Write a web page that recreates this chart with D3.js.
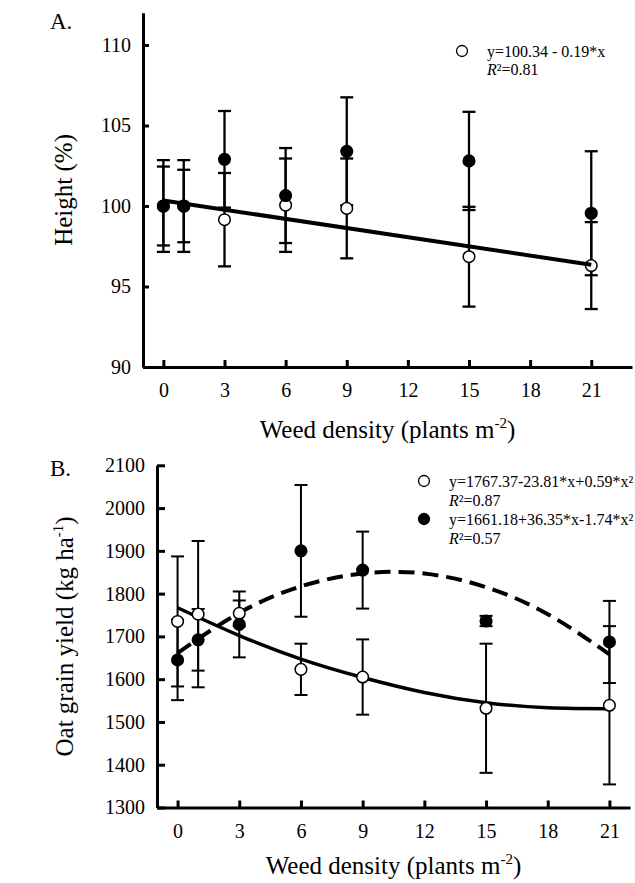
<!DOCTYPE html>
<html>
<head>
<meta charset="utf-8">
<script src="https://cdn.jsdelivr.net/npm/d3@7"></script>
<style>
  html, body { margin: 0; padding: 0; background: #fff; }
  svg { display: block; }
  svg text { font-family: "Liberation Serif", "Times New Roman", Times, "DejaVu Serif", serif !important; }
</style>
</head>
<body>
<div id="chart"></div>
<script>
// weed densities (plants m-2) used in both panels
const densities = [0, 1, 3, 6, 9, 15, 21];
const xTicks = [0, 3, 6, 9, 12, 15, 18, 21];

// A. height (%)
const heightTicks = [90, 95, 100, 105, 110];
const heightOpen = [100, 100, 99.15, 100.05, 99.85, 96.85, 96.3];
const heightOpenErr = [2.45, 2.25, 2.9, 2.9, 3.1, 3.1, 2.7];
const heightFilled = [100, 100, 102.9, 100.65, 103.4, 102.8, 99.55];
const heightFilledErr = [2.85, 2.85, 3.0, 2.95, 3.35, 3.05, 3.85];
// fitted line
const heightFitX = [0, 21];
const heightFitOpen = [100.34, 96.35];
const heightLegendSymbols = ['open'];
const heightLegendEq = ['y=100.34 - 0.19*x'];
const heightLegendR2 = ['0.81'];

// B. oat grain yield (kg ha-1)
const yieldTicks = [1300, 1400, 1500, 1600, 1700, 1800, 1900, 2000, 2100];
const yieldOpen = [1735, 1752, 1754, 1623, 1605, 1532, 1539];
const yieldOpenErr = [152, 171, 30, 60, 88, 151, 185];
const yieldFilled = [1645, 1692, 1728, 1900, 1855, 1736, 1687];
const yieldFilledErr = [94, 72, 77, 154, 90, 12, 96];
// fitted curves
const yieldFitX = [0, 3, 6, 9, 12, 15, 18, 21];
const yieldFitOpen = [1767, 1702, 1647, 1604, 1569, 1545, 1533, 1531];
const yieldFitFilled = [1661, 1755, 1817, 1847, 1847, 1815, 1752, 1658];
const yieldLegendSymbols = ['open', 'filled'];
const yieldLegendEq = ['y=1767.37-23.81*x+0.59*x\u00B2', 'y=1661.18+36.35*x-1.74*x\u00B2'];
const yieldLegendR2 = ['0.87', '0.57'];

const width = 635, height = 883;
const serif = '"Liberation Serif", "Times New Roman", Times, "DejaVu Serif", serif';

const svg = d3.select('#chart').append('svg')
  .attr('width', width)
  .attr('height', height)
  .style('font-family', serif);

function styleAxis(g, tickWidth) {
  g.attr('font-family', null);
  g.select('.domain').attr('stroke', '#000').attr('stroke-width', 3);
  g.selectAll('.tick line').attr('stroke', '#000').attr('stroke-width', tickWidth);
  g.selectAll('.tick text')
    .attr('fill', '#000')
    .attr('font-size', 20)
    .style('font-family', serif);
}

function drawPanel(p) {
  const x = d3.scaleLinear().domain(p.xDomain).range(p.xRange);
  const y = d3.scaleLinear().domain(p.yDomain).range(p.yRange);
  const g = svg.append('g').style('font-family', serif);

  // axes (ticks point inward)
  const yAxisG = g.append('g')
    .attr('transform', `translate(${p.xRange[0]},0)`)
    .call(d3.axisLeft(y)
      .tickValues(p.yTicks)
      .tickFormat(d3.format('d'))
      .tickSizeInner(-p.yTickLen)
      .tickSizeOuter(0)
      .tickPadding(12));
  styleAxis(yAxisG, 3);

  const xAxisG = g.append('g')
    .attr('transform', `translate(0,${p.yRange[0]})`)
    .call(d3.axisBottom(x)
      .tickValues(xTicks)
      .tickFormat(d3.format('d'))
      .tickSizeInner(-7)
      .tickSizeOuter(0)
      .tickPadding(16));
  styleAxis(xAxisG, 3);

  const series = [
    { vals: p.open, errs: p.openErr, fill: '#fff' },
    { vals: p.filled, errs: p.filledErr, fill: '#000' }
  ];

  const line = d3.line()
    .x(d => x(d[0]))
    .y(d => y(d[1]))
    .curve(d3.curveNatural);

  const drawFits = () => {
    p.fits.forEach(f => {
      g.append('path')
        .attr('d', line(p.fitX.map((v, i) => [v, f.vals[i]])))
        .attr('fill', 'none')
        .attr('stroke', '#000')
        .attr('stroke-width', f.width)
        .attr('stroke-dasharray', f.dash || null);
    });
  };

  if (!p.fitsOnTop) drawFits();

  // error bars
  const capHalf = 6.5;
  series.forEach(s => {
    const eg = g.append('g')
      .attr('stroke', '#000')
      .attr('stroke-width', p.errWidth);
    densities.forEach((d, i) => {
      const hi = y(s.vals[i] + s.errs[i]);
      const lo = y(s.vals[i] - s.errs[i]);
      eg.append('line').attr('x1', x(d)).attr('x2', x(d)).attr('y1', hi).attr('y2', lo);
      eg.append('line').attr('x1', x(d) - capHalf).attr('x2', x(d) + capHalf).attr('y1', hi).attr('y2', hi);
      eg.append('line').attr('x1', x(d) - capHalf).attr('x2', x(d) + capHalf).attr('y1', lo).attr('y2', lo);
    });
  });

  // points
  series.forEach(s => {
    g.append('g').selectAll('circle')
      .data(densities)
      .enter()
      .append('circle')
      .attr('cx', d => x(d))
      .attr('cy', (d, i) => y(s.vals[i]))
      .attr('r', 5.8)
      .attr('fill', s.fill)
      .attr('stroke', '#000')
      .attr('stroke-width', 1.5);
  });

  if (p.fitsOnTop) drawFits();

  // legend
  const lg = g.append('g')
    .attr('font-size', 16)
    .attr('fill', '#000');
  p.legendSymbols.forEach((sym, i) => {
    const by = p.legend.y + i * p.legend.step * 2;
    lg.append('circle')
      .attr('cx', p.legend.x)
      .attr('cy', by - 6)
      .attr('r', 5.5)
      .attr('fill', sym === 'filled' ? '#000' : '#fff')
      .attr('stroke', '#000')
      .attr('stroke-width', 1.3);
    lg.append('text')
      .attr('x', p.legend.x + 25)
      .attr('y', by)
      .text(p.legendEq[i]);
    const r2 = lg.append('text')
      .attr('x', p.legend.x + 25)
      .attr('y', by + p.legend.step);
    r2.append('tspan').attr('font-style', 'italic').text('R');
    r2.append('tspan').text('\u00B2=' + p.legendR2[i]);
  });

  // axis titles
  const xt = g.append('text')
    .attr('x', (p.xRange[0] + p.xRange[1]) / 2)
    .attr('y', p.xTitleY)
    .attr('text-anchor', 'middle')
    .attr('font-size', 25);
  xt.append('tspan').text('Weed density (plants m');
  xt.append('tspan').attr('font-size', 15).attr('dy', -10).text('-2');
  xt.append('tspan').attr('dy', 10).text(')');

  const yt = g.append('text')
    .attr('transform', `translate(${p.yTitleX},${(p.yRange[0] + p.yRange[1]) / 2}) rotate(-90)`)
    .attr('text-anchor', 'middle')
    .attr('font-size', 25);
  p.yTitle.forEach(part => {
    const t = yt.append('tspan').text(part.text);
    if (part.sup) t.attr('font-size', 15).attr('dy', -10);
    if (part.down) t.attr('dy', 10);
  });

  g.append('text')
    .attr('x', 50)
    .attr('y', p.letterY)
    .attr('font-size', 23)
    .text(p.letter);
}

drawPanel({
  letter: 'A.', letterY: 29,
  xDomain: [-1, 23], xRange: [143, 632],
  yDomain: [90, 112], yRange: [367, 12.8],
  yTicks: heightTicks, yTickLen: 6,
  open: heightOpen, openErr: heightOpenErr,
  filled: heightFilled, filledErr: heightFilledErr,
  errWidth: 2.3,
  fitX: heightFitX,
  fits: [{ vals: heightFitOpen, width: 4 }],
  fitsOnTop: true,
  legend: { x: 462, y: 57, step: 18 },
  legendSymbols: heightLegendSymbols, legendEq: heightLegendEq, legendR2: heightLegendR2,
  xTitleY: 438,
  yTitleX: 72,
  yTitle: [{ text: 'Height (%)' }]
});

drawPanel({
  letter: 'B.', letterY: 476,
  xDomain: [-1, 22], xRange: [157, 630],
  yDomain: [1300, 2100], yRange: [807.5, 465.3],
  yTicks: yieldTicks, yTickLen: 8,
  open: yieldOpen, openErr: yieldOpenErr,
  filled: yieldFilled, filledErr: yieldFilledErr,
  errWidth: 2,
  fitX: yieldFitX,
  fits: [
    { vals: yieldFitOpen, width: 3.5 },
    { vals: yieldFitFilled, width: 4, dash: '16,8' }
  ],
  fitsOnTop: false,
  legend: { x: 424, y: 487, step: 19 },
  legendSymbols: yieldLegendSymbols, legendEq: yieldLegendEq, legendR2: yieldLegendR2,
  xTitleY: 874,
  yTitleX: 73,
  yTitle: [
    { text: 'Oat grain yield (kg ha' },
    { text: '-1', sup: true },
    { text: ')', down: true }
  ]
});
</script>
</body>
</html>
